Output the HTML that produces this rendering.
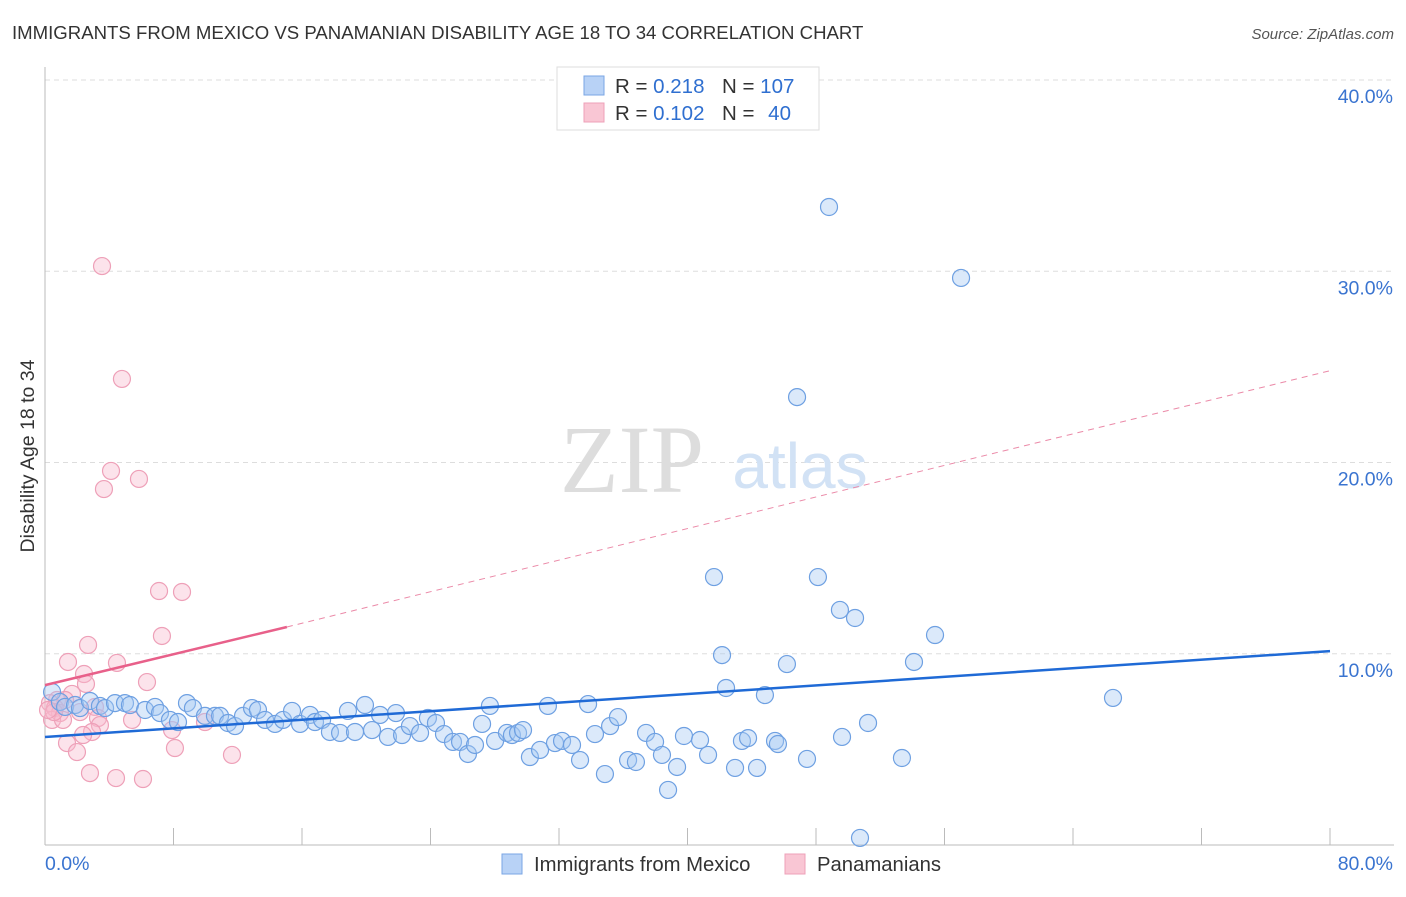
<!DOCTYPE html>
<html><head><meta charset="utf-8"><style>
body{margin:0;background:#fff;font-family:"Liberation Sans",sans-serif;}
svg text{font-family:"Liberation Sans",sans-serif;}
</style></head><body>
<svg id="chart" width="1406" height="892" viewBox="0 0 1406 892">
<text x="12" y="39" font-size="18.6" fill="#333">IMMIGRANTS FROM MEXICO VS PANAMANIAN DISABILITY AGE 18 TO 34 CORRELATION CHART</text>
<text x="1394" y="39" font-size="15" fill="#555" font-style="italic" text-anchor="end">Source: ZipAtlas.com</text>
<g id="grid"></g>
<g id="axes"></g>
<text x="632" y="492" font-size="96" fill="#ddd" text-anchor="middle" style="font-family:'Liberation Serif',serif">ZIP</text>
<text x="800" y="488" font-size="64" fill="#d2e2f5" text-anchor="middle">atlas</text>
<g id="marks"></g>
<g id="lines"></g>
<text transform="translate(34,456) rotate(-90)" font-size="19.5" fill="#333" text-anchor="middle">Disability Age 18 to 34</text>
<g>
<rect x="557" y="67" width="262" height="63" fill="#fff" stroke="#ddd"/>
<rect x="584" y="76" width="20" height="19" fill="#b8d2f6" stroke="#7aa6e4"/>
<rect x="584" y="103" width="20" height="19" fill="#f9c6d4" stroke="#eea0b8"/>
<text x="615" y="93" font-size="20.5" fill="#333">R = <tspan fill="#2f6fd0">0.218</tspan></text>
<text x="722" y="93" font-size="20.5" fill="#333">N = <tspan fill="#2f6fd0">107</tspan></text>
<text x="615" y="120" font-size="20.5" fill="#333">R = <tspan fill="#2f6fd0">0.102</tspan></text>
<text x="722" y="120" font-size="20.5" fill="#333">N = <tspan fill="#2f6fd0" dx="8">40</tspan></text>
</g>
<g>
<rect x="502" y="854" width="20" height="20" fill="#b8d2f6" stroke="#7aa6e4"/>
<text x="534" y="871" font-size="20.3" fill="#333">Immigrants from Mexico</text>
<rect x="785" y="854" width="20" height="20" fill="#f9c6d4" stroke="#eea0b8"/>
<text x="817" y="871" font-size="20.3" fill="#333">Panamanians</text>
</g>
</svg>
<script>
const xTicks=[0,8,16,24,32,40,48,56,64,72,80];
const yTicks=[10,20,30,40];
const yTickLabels=["10.0%","20.0%","30.0%","40.0%"];
const xTickLabels=["0.0%","80.0%"];
const blueX=[0.44,0.93,1.25,1.87,2.18,2.8,3.42,3.74,4.36,4.98,5.29,6.23,6.85,7.16,7.78,8.28,8.84,9.21,9.96,10.58,10.9,11.39,11.83,12.33,12.89,13.26,13.7,14.32,14.82,15.38,15.88,16.5,16.81,17.25,17.74,18.37,18.86,19.3,19.92,20.36,20.86,21.35,21.85,22.23,22.72,23.35,23.84,24.34,24.84,25.4,25.84,26.33,26.77,27.21,27.7,28.02,28.76,29.07,29.45,29.76,30.19,30.82,31.31,31.75,32.19,32.81,33.31,33.81,34.24,34.86,35.18,35.67,36.3,36.79,37.42,37.98,38.41,38.79,39.35,39.78,40.78,41.28,41.65,42.15,42.4,42.96,43.39,43.77,44.33,44.82,45.45,45.63,46.19,46.82,47.44,48.12,48.81,49.49,49.62,50.43,50.74,51.24,53.35,54.1,55.41,57.03,66.49];
const blueY=[8.0,7.48,7.22,7.32,7.16,7.53,7.27,7.16,7.42,7.42,7.32,7.06,7.22,6.9,6.54,6.43,7.42,7.16,6.75,6.75,6.75,6.38,6.22,6.75,7.16,7.06,6.54,6.33,6.54,7.01,6.33,6.8,6.43,6.54,5.91,5.86,7.01,5.91,7.32,6.01,6.8,5.65,6.9,5.75,6.22,5.86,6.64,6.38,5.8,5.39,5.39,4.76,5.23,6.33,7.27,5.44,5.86,5.75,5.86,6.01,4.6,4.97,7.27,5.33,5.44,5.23,4.44,7.37,5.8,3.71,6.22,6.69,4.44,4.34,5.86,5.39,4.71,2.88,4.08,5.7,5.49,4.71,14.01,9.93,8.21,4.03,5.44,5.59,4.03,7.84,5.44,5.28,9.46,23.42,4.5,14.01,33.36,12.29,5.65,11.87,0.37,6.38,4.55,9.57,10.98,29.65,7.69];
const pinkX=[3.55,4.79,4.11,3.67,5.85,7.1,8.53,7.28,2.68,1.43,4.48,2.43,6.35,2.55,1.68,0.75,1.25,0.31,0.62,0.93,0.44,1.12,2.18,3.11,3.3,3.42,2.93,2.37,1.37,1.99,8.09,11.64,9.96,7.91,5.42,2.8,4.42,6.1,0.56,0.19];
const pinkY=[30.27,24.37,19.56,18.61,19.14,13.28,13.23,10.93,10.46,9.57,9.52,8.94,8.52,8.42,7.9,7.58,7.58,7.42,7.16,6.9,6.54,6.54,6.95,7.22,6.64,6.27,5.91,5.75,5.33,4.86,5.07,4.71,6.43,6.01,6.54,3.76,3.5,3.45,6.95,7.06];
const blueTrend=[0,5.65,80,10.14];
const pinkTrend=[0,8.36,15.06,11.4,80,24.8];
const NS="http://www.w3.org/2000/svg";
const X=v=>45+v*(1285/80);
const Y=v=>845-v*19.125;
function mk(tag,attrs,parent){const e=document.createElementNS(NS,tag);for(const k in attrs)e.setAttribute(k,attrs[k]);parent.appendChild(e);return e;}
const grid=document.getElementById('grid'),axes=document.getElementById('axes'),marks=document.getElementById('marks'),lines=document.getElementById('lines');
yTicks.forEach((t,i)=>{
 const l=mk('line',{x1:45,x2:1394,y1:Y(t),y2:Y(t),stroke:'#ddd','stroke-dasharray':'5,4'},grid);
 
 
 const tx=mk('text',{x:1393,y:Y(t)+23,'font-size':19.5,fill:'#3a74d0','text-anchor':'end'},axes);
 tx.textContent=yTickLabels[i];
 
 
});
mk('line',{x1:45,x2:45,y1:67,y2:845,stroke:'#bbb'},axes);
mk('line',{x1:45,x2:1394,y1:845,y2:845,stroke:'#bbb'},axes);
xTicks.forEach(t=>{
 const l=mk('line',{x1:X(t),x2:X(t),y1:828,y2:845,stroke:'#bbb'},axes);
 
 
});
const xl0=mk('text',{x:45,y:870,'font-size':19.5,fill:'#3a74d0'},axes);xl0.textContent=xTickLabels[0];


const xl1=mk('text',{x:1393,y:870,'font-size':19.5,fill:'#3a74d0','text-anchor':'end'},axes);xl1.textContent=xTickLabels[1];


pinkX.forEach((v,i)=>{
 const c=mk('circle',{cx:X(v),cy:Y(pinkY[i]),r:8.5,fill:'rgba(248,185,205,0.4)',stroke:'#eea0b8','stroke-width':1.2},marks);
 
 
});
blueX.forEach((v,i)=>{
 const c=mk('circle',{cx:X(v),cy:Y(blueY[i]),r:8.5,fill:'rgba(165,200,242,0.4)',stroke:'#6ea0e2','stroke-width':1.2},marks);
 
 
});
const bl=mk('line',{x1:X(blueTrend[0]),y1:Y(blueTrend[1]),x2:X(blueTrend[2]),y2:Y(blueTrend[3]),stroke:'#1f6ad6','stroke-width':2.5},lines);


const pl=mk('line',{x1:X(pinkTrend[0]),y1:Y(pinkTrend[1]),x2:X(pinkTrend[2]),y2:Y(pinkTrend[3]),stroke:'#e8608a','stroke-width':2.5},lines);


const pd=mk('line',{x1:X(pinkTrend[2]),y1:Y(pinkTrend[3]),x2:X(pinkTrend[4]),y2:Y(pinkTrend[5]),stroke:'#eb8aa8','stroke-width':1,'stroke-dasharray':'6,5'},lines);


</script>
</body></html>
